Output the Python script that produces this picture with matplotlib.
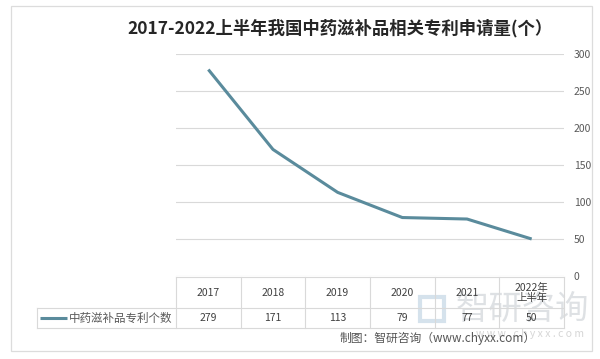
import matplotlib
matplotlib.use("Agg")
import matplotlib.pyplot as plt
from matplotlib.patches import Rectangle

plt.rcParams['font.family'] = ['Noto Sans CJK SC', 'DejaVu Sans']

# ---- data ----
categories = ["2017", "2018", "2019", "2020", "2021", "2022年\n上半年"]
values = [279, 171, 113, 79, 77, 50]
series_name = "中药滋补品专利个数"
title = "2017-2022上半年我国中药滋补品相关专利申请量(个）"
source = "制图：智研咨询（www.chyxx.com）"
yticks = [0, 50, 100, 150, 200, 250, 300]

W, H = 600, 359
LINE_COLOR = "#5a8b9c"
GRID = "#d9d9d9"
TXT = "#404040"

fig = plt.figure(figsize=(W / 100, H / 100), dpi=100)

# overlay axes in pixel coordinates for frame, table, texts
ov = fig.add_axes([0, 0, 1, 1])
ov.set_xlim(0, W)
ov.set_ylim(H, 0)
ov.axis("off")

# plot area (pixels)
L, R, T, B = 176, 564, 54, 276
ax = fig.add_axes([L / W, 1 - B / H, (R - L) / W, (B - T) / H])
ax.patch.set_alpha(0)
x = list(range(len(values)))
ax.plot(x, values, color=LINE_COLOR, lw=2.2, solid_capstyle="butt", zorder=3)
ax.set_xlim(-0.5, len(values) - 0.5)
ax.set_ylim(0, 300)
ax.set_yticks(yticks)
ax.yaxis.tick_right()
ax.tick_params(axis="y", length=0, pad=7, labelsize=7.5, labelcolor="#595959")
ax.set_xticks([])
ax.grid(axis="y", color=GRID, lw=0.8)
for s in ax.spines.values():
    s.set_visible(False)

# outer frame
ov.add_patch(Rectangle((11, 6), 581, 345, fill=False, edgecolor="#dcdcdc", lw=0.9))

# title
ov.text(340, 28, title, ha="center", va="center", fontsize=12.5,
        fontweight="bold", color="#262626")

# table
n = len(categories)
colw = (R - L) / n
t_top, t_mid, t_bot, lab_left = 277, 308, 328, 37
for i in range(n + 1):
    xx = L + i * colw
    ov.plot([xx, xx], [t_top, t_bot], color=GRID, lw=0.8)
ov.plot([L, R], [t_top, t_top], color=GRID, lw=0.8)
ov.plot([lab_left, R], [t_mid, t_mid], color=GRID, lw=0.8)
ov.plot([lab_left, R], [t_bot, t_bot], color=GRID, lw=0.8)
ov.plot([lab_left, lab_left], [t_mid, t_bot], color=GRID, lw=0.8)

# watermark
ov.text(522, 309, "智研咨询", ha="center", va="center", fontsize=24,
        color="#c9ced3", alpha=0.6, zorder=1)
ov.add_patch(Rectangle((420, 297), 24, 24, fill=False, edgecolor="#c4d6e4",
                       lw=3, alpha=0.7, zorder=1))
ov.text(530, 334, "w w w . c h y x x . c o m", ha="center", va="center",
        fontsize=7.5, color="#d6d6d6", zorder=1)

for i, (c, v) in enumerate(zip(categories, values)):
    cx = L + (i + 0.5) * colw
    ov.text(cx, 293, c, ha="center", va="center", fontsize=7.5,
            color=TXT, linespacing=1.05, zorder=3)
    ov.text(cx, 318, str(v), ha="center", va="center", fontsize=7.5,
            color=TXT, zorder=3)

# legend key in table
ov.plot([40, 67], [318, 318], color=LINE_COLOR, lw=2.2, solid_capstyle="butt")
ov.text(69, 318, series_name, ha="left", va="center", fontsize=8.3, color="#595959")

# source
ov.text(438, 338, source, ha="center", va="center", fontsize=8.5, color="#555555", zorder=3)

fig.savefig("out.png", dpi=100)
